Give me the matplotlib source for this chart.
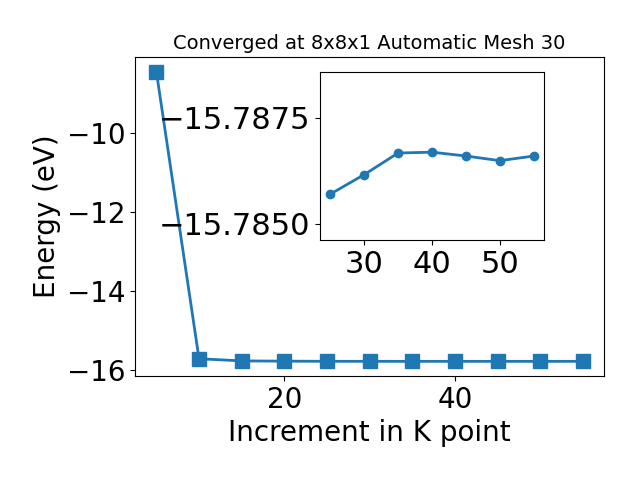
import matplotlib
matplotlib.use("Agg")
import matplotlib.pyplot as plt

# k-point mesh increments and total energies (eV)
kpts = [5, 10, 15, 20, 25, 30, 35, 40, 45, 50, 55]
energy = [-8.43, -15.72, -15.775, -15.782, -15.7857, -15.7862, -15.7867,
          -15.7867, -15.7866, -15.7865, -15.7866]

# zoomed region for the inset
kpts_zoom = [25, 30, 35, 40, 45, 50, 55]
energy_zoom = [-15.7857, -15.78616, -15.78667, -15.78669, -15.7866, -15.78649, -15.7866]
zoom_yticks = [-15.7875, -15.7850]

fig = plt.figure(figsize=(6.4, 4.8), dpi=100)
ax = fig.add_axes([0.211, 0.217, 0.733, 0.664])
ax.plot(kpts, energy, marker='s', markersize=10, linewidth=2)
ax.set_title("Converged at 8x8x1 Automatic Mesh 30", fontsize=14)
ax.set_xlabel("Increment in K point", fontsize=20)
ax.set_ylabel("Energy (eV)", fontsize=20)
ax.tick_params(labelsize=20)

# inset with the converged part
axins = fig.add_axes([0.5, 0.5, 0.35, 0.35])
axins.plot(kpts_zoom, energy_zoom, marker='o', markersize=6, linewidth=2)
axins.set_ylim(-15.78462, -15.78858)
axins.set_yticks(zoom_yticks)
axins.ticklabel_format(axis='y', useOffset=False)
axins.tick_params(labelsize=22)

fig.savefig("out.png", dpi=100)
